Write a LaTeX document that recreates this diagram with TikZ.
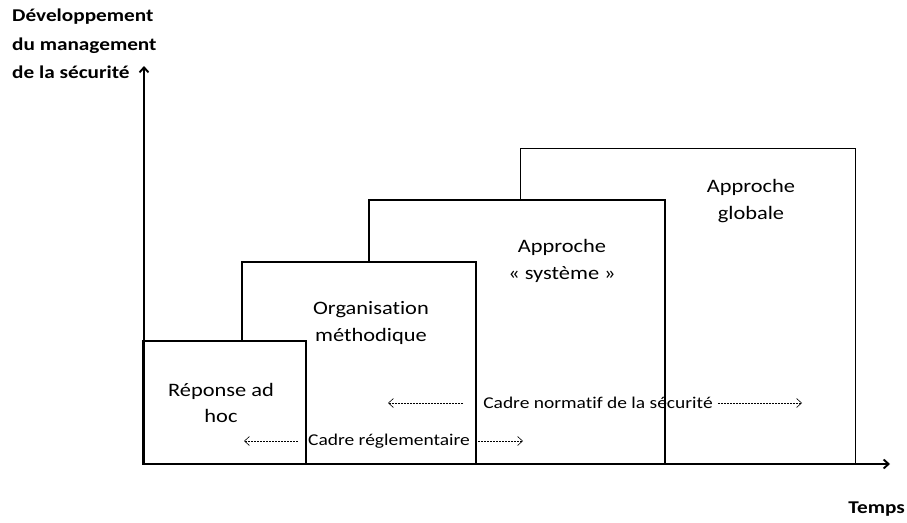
\documentclass[tikz,border=0pt]{standalone}
\usepackage{fontspec}
\setmainfont{Carlito}[FakeStretch=1.18,Ligatures=NoCommon]
\usetikzlibrary{arrows.meta}
\begin{document}
\begin{tikzpicture}[x=1pt,y=-1pt,
  stage/.style={draw=black,fill=white,line width=1.9pt},
  lbl/.style={align=center,font=\fontsize{19}{26.5}\selectfont},
  cadre/.style={font=\fontsize{16.5}{18}\selectfont,inner sep=0pt},
  darr/.style={dash pattern=on 2pt off 1pt,line width=0.6pt,-{Straight Barb[length=5pt,width=9pt]}},
  axis/.style={line width=1.9pt,-{Straight Barb[length=5pt,width=9pt]}}]
\useasboundingbox (0,0) rectangle (907,522);
% boxes back to front
\draw[stage,line width=0.9pt] (520,148) rectangle (855,464);
\node[lbl] (glob) at (751,201) {Approche\\globale};
\draw[stage] (369,200) rectangle (665,464);
\node[lbl] (sys) at (562,261) {Approche\\« système »};
\draw[stage] (242,262) rectangle (476,464);
\node[lbl] (org) at (371,323) {Organisation\\méthodique};
\draw[stage] (143,341) rectangle (306,464);
\node[lbl] (adhoc) at (221,403) {Réponse ad\\hoc};
% axes
\coordinate (o) at (144,464);
\coordinate (ytop) at (144,66);
\coordinate (xend) at (890,464);
\draw[axis] (o) -- (ytop);
\draw[axis] (o) -- (xend);
\node[anchor=north west,align=left,inner sep=0pt,font=\bfseries\fontsize{18}{28.5}\selectfont] (ylab) at (12,9) {Développement\\du management\\de la sécurité};
\node[anchor=north east,inner sep=0pt,font=\bfseries\fontsize{18}{18}\selectfont] (xlab) at (905,502) {Temps};
% cadres
\node[cadre] (regl) at (389,441) {Cadre réglementaire};
\coordinate (reglL) at (244,441);
\coordinate (reglR) at (523,441);
\draw[darr] ([xshift=-10pt]regl.west) -- (reglL);
\draw[darr] ([xshift=5pt]regl.east) -- (reglR);
\node[cadre] (norm) at (598,403) {Cadre normatif de la sécurité};
\coordinate (normL) at (388,403);
\coordinate (normR) at (802,403);
\draw[darr] ([xshift=-20pt]norm.west) -- (normL);
\draw[darr] ([xshift=5pt]norm.east) -- (normR);
\end{tikzpicture}
\end{document}
